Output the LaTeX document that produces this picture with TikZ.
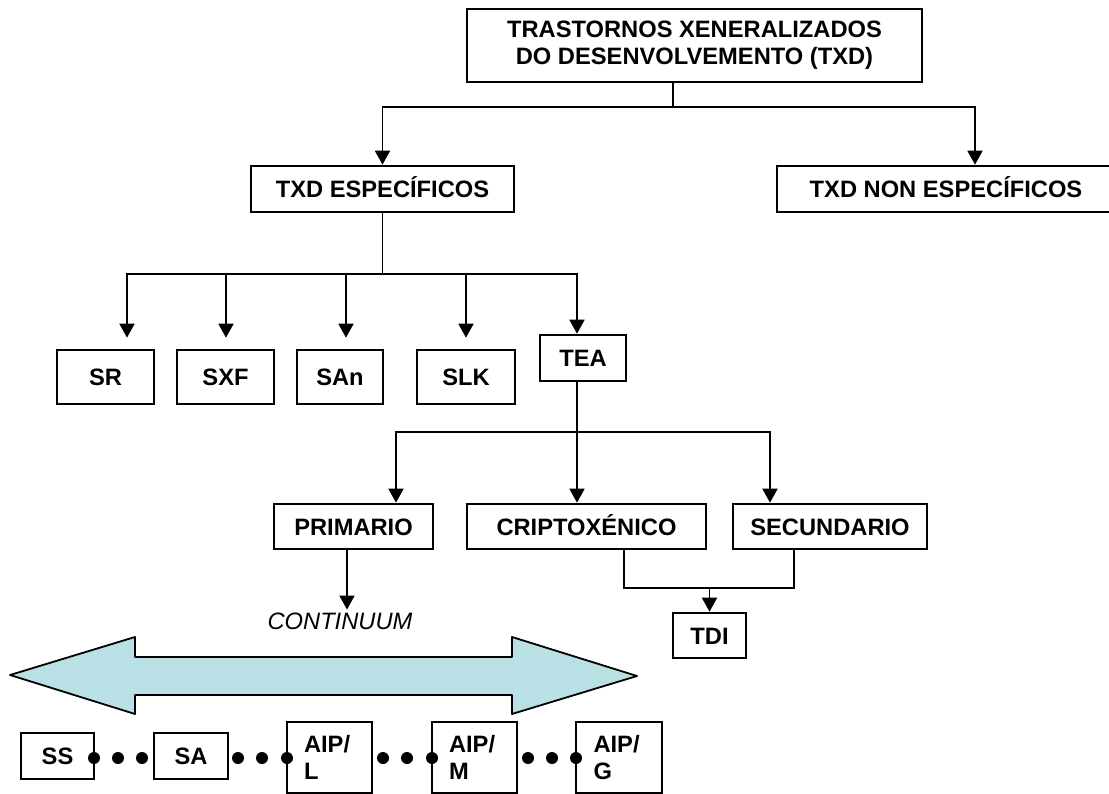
\documentclass[tikz,border=0pt]{standalone}
\usepackage{fontspec}
\setmainfont{Liberation Sans}
\usetikzlibrary{arrows.meta}
\definecolor{paleaqua}{RGB}{185,224,228}
\tikzset{
  boxbase/.style={rectangle, draw=black, line width=2.6pt, fill=white, inner sep=0pt,
                  align=center, font=\fontsize{23.7}{27}\selectfont\bfseries},
  block/.style={boxbase, text height=17pt, text depth=0pt},
  aipbox/.style={boxbase, align=left, text width=51pt, inner xsep=17pt,
                 minimum width=85pt, minimum height=71pt},
  arrow/.style={-{Triangle[length=14pt,width=15pt]}, line width=1.8pt},
  link/.style={line width=1.8pt},
  note/.style={font=\fontsize{23.7}{27}\selectfont\itshape},
}
\begin{document}
\begin{tikzpicture}[x=1pt, y=-1pt]
\useasboundingbox (0,0) rectangle (1109,794);

% upper levels
\node[boxbase, minimum width=455pt, minimum height=73pt] (top) at (694.5,45.5)
  {TRASTORNOS XENERALIZADOS\\DO DESENVOLVEMENTO (TXD)};
\node[block, minimum width=263pt, minimum height=46pt] (esp) at (382.5,189) {TXD ESPECÍFICOS};
\node[block, minimum width=338pt, minimum height=46pt] (nonesp) at (946,189) {TXD NON ESPECÍFICOS};

% syndromes
\node[block, minimum width=97pt, minimum height=54pt] (sr) at (105.5,377) {SR};
\node[block, minimum width=97pt, minimum height=54pt] (sxf) at (225.5,377) {SXF};
\node[block, minimum width=86pt, minimum height=54pt] (san) at (340,377) {SAn};
\node[block, minimum width=98pt, minimum height=54pt] (slk) at (466,377) {SLK};
\node[block, minimum width=86pt, minimum height=46pt] (tea) at (583,358) {TEA};

% TEA types
\node[block, minimum width=159pt, minimum height=45pt] (prim) at (353.5,526.5) {PRIMARIO};
\node[block, minimum width=239pt, minimum height=45pt] (cripto) at (586.5,526.5) {CRIPTOXÉNICO};
\node[block, minimum width=194pt, minimum height=45pt] (sec) at (830,526.5) {SECUNDARIO};
\node[block, minimum width=73pt, minimum height=45pt] (tdi) at (709.5,635.5) {TDI};
\node[note] (cont) at (340,621.5) {CONTINUUM};

% continuum
\fill[paleaqua, draw=black, line width=1.8pt, line join=round]
  (10,675) -- (135,637) -- (135,657) -- (512,657) -- (512,637) -- (637,676)
  -- (512,714) -- (512,695) -- (135,695) -- (135,714) -- cycle;
\node[block, minimum width=73pt, minimum height=46pt] (ss) at (57.5,756) {SS};
\node[block, minimum width=74pt, minimum height=46pt] (sa) at (191,756) {SA};
\node[aipbox] (aipl) at (329.5,757.5) {AIP/\\L};
\node[aipbox] (aipm) at (474.5,757.5) {AIP/\\M};
\node[aipbox, minimum width=86pt] (aipg) at (619,757.5) {AIP/\\G};
\foreach \x in {94,118,142,238,262,287,383,407,432,528,552,576}
  \fill (\x,758) circle (6pt);

% connectors
\coordinate (topj) at (673,107);
\draw[link] (top.south -| topj) -- (topj);
\draw[arrow] (topj) -| (esp);
\draw[arrow] (topj) -| ([xshift=29pt]nonesp.north);

\coordinate (espj) at (382.5,274);
\draw[link] (esp) -- (espj);
\foreach \n/\s in {sr/21.5, sxf/0.5, san/6, slk/0}
  \draw[arrow] (espj) -| ([xshift=\s pt, yshift=11pt]\n.north);
\draw[arrow] (espj) -| ([xshift=-6pt]tea.north);

\coordinate (teaj) at (577,432);
\draw[arrow] ([xshift=-6pt]tea.south) -- ([xshift=-9.5pt]cripto.north);
\draw[arrow] (teaj) -| ([xshift=42.5pt]prim.north);
\draw[arrow] (teaj) -| ([xshift=-60pt]sec.north);
\draw[arrow] ([xshift=-6.5pt]prim.south) -- ([xshift=7pt]cont.north);

\coordinate (tdij) at (709.5,588);
\draw[link] ([xshift=37.5pt]cripto.south) |- (tdij) -| ([xshift=-36pt]sec.south);
\draw[arrow] (tdij) -- (tdi);
\end{tikzpicture}
\end{document}
